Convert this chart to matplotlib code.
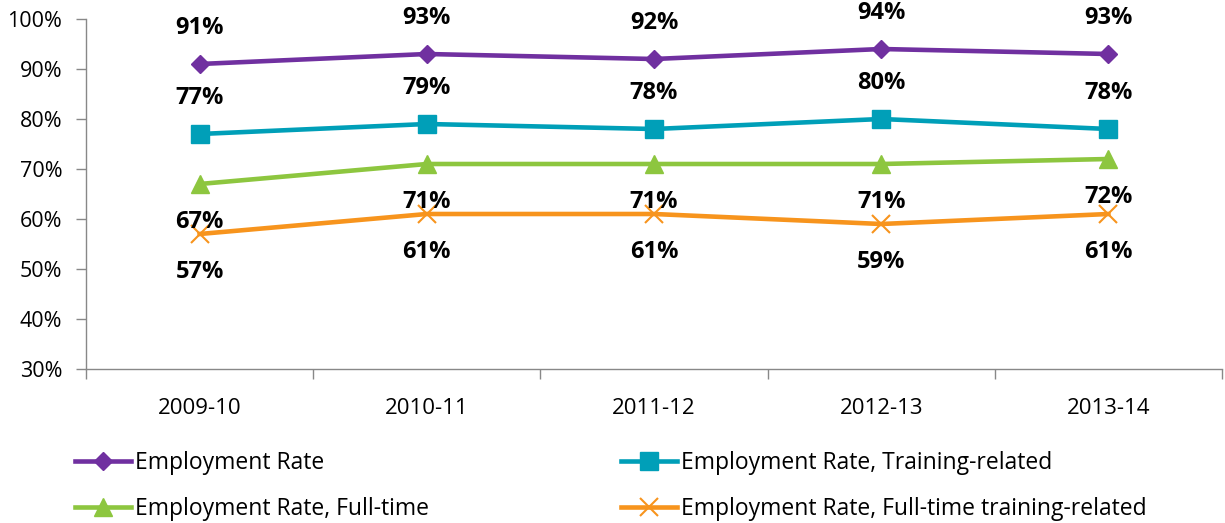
import numpy as np
import matplotlib
matplotlib.use("Agg")
import matplotlib.pyplot as plt

matplotlib.rcParams.update({
    "font.family": ["Open Sans", "DejaVu Sans"],
    "axes.linewidth": 1.0,
})

YEARS = ["2009-10", "2010-11", "2011-12", "2012-13", "2013-14"]
EMP_RATE = [91, 93, 92, 94, 93]
EMP_TRAINING = [77, 79, 78, 80, 78]
EMP_FULLTIME = [67, 71, 71, 71, 72]
EMP_FT_TRAINING = [57, 61, 61, 59, 61]

# name, values, colour, marker, marker size, edge width, label offset (pt)
SERIES = [
    ("Employment Rate", EMP_RATE, "#7030A0", "D", 9, 1, 26),
    ("Employment Rate, Training-related", EMP_TRAINING, "#009FB8", "s", 13, 1, 26),
    ("Employment Rate, Full-time", EMP_FULLTIME, "#8DC63F", "^", 13, 1, -27.5),
    ("Employment Rate, Full-time training-related", EMP_FT_TRAINING, "#F7941D", "x", 13, 1.5, -27.5),
]

fig = plt.figure(figsize=(12.25, 5.23), dpi=100)
ax = fig.add_axes([86 / 1225, 1 - 369 / 523, (1222 - 86) / 1225, 350 / 523])

x = np.arange(len(YEARS))
handles = {}
for name, vals, color, marker, ms, mew, dy in SERIES:
    (ln,) = ax.plot(x, vals, color=color, linewidth=3.3, marker=marker,
                    markersize=ms, markeredgewidth=mew, markeredgecolor=color,
                    markerfacecolor=color, zorder=3, label=name)
    handles[name] = ln
    for xi, v in zip(x, vals):
        ax.annotate(f"{v}%", (xi, v), xytext=(0, dy), textcoords="offset points",
                    ha="center", va="center", fontsize=17, fontweight="bold",
                    color="black", zorder=5)

ax.set_xlim(-0.5, len(YEARS) - 0.5)
ax.set_ylim(30, 100)
ax.set_yticks(np.arange(30, 101, 10))
ax.set_yticklabels([f"{v}%" for v in range(30, 101, 10)])

ax.set_xticks(x)
ax.set_xticklabels(YEARS)
ax.set_xticks(np.arange(-0.5, len(YEARS)), minor=True)
ax.tick_params(axis="x", which="major", length=0, pad=21, labelsize=16)
ax.tick_params(axis="x", which="minor", length=7, width=1.0, color="#888888", direction="out")
ax.tick_params(axis="y", length=7, width=1.0, color="#888888", direction="out", pad=10, labelsize=15.5)

for side in ["top", "right"]:
    ax.spines[side].set_visible(False)
for side in ["left", "bottom"]:
    ax.spines[side].set_color("#888888")

order = ["Employment Rate", "Employment Rate, Full-time",
         "Employment Rate, Training-related", "Employment Rate, Full-time training-related"]
fig.legend([handles[n] for n in order], order, ncol=2, loc="upper left",
           bbox_to_anchor=(66 / 1225, 1 - 442 / 523), frameon=False, fontsize=16.5,
           handlelength=2.45, handletextpad=0.15, columnspacing=8.4, labelspacing=0.95,
           borderaxespad=0)

fig.savefig("out.png", dpi=100, facecolor="white")
